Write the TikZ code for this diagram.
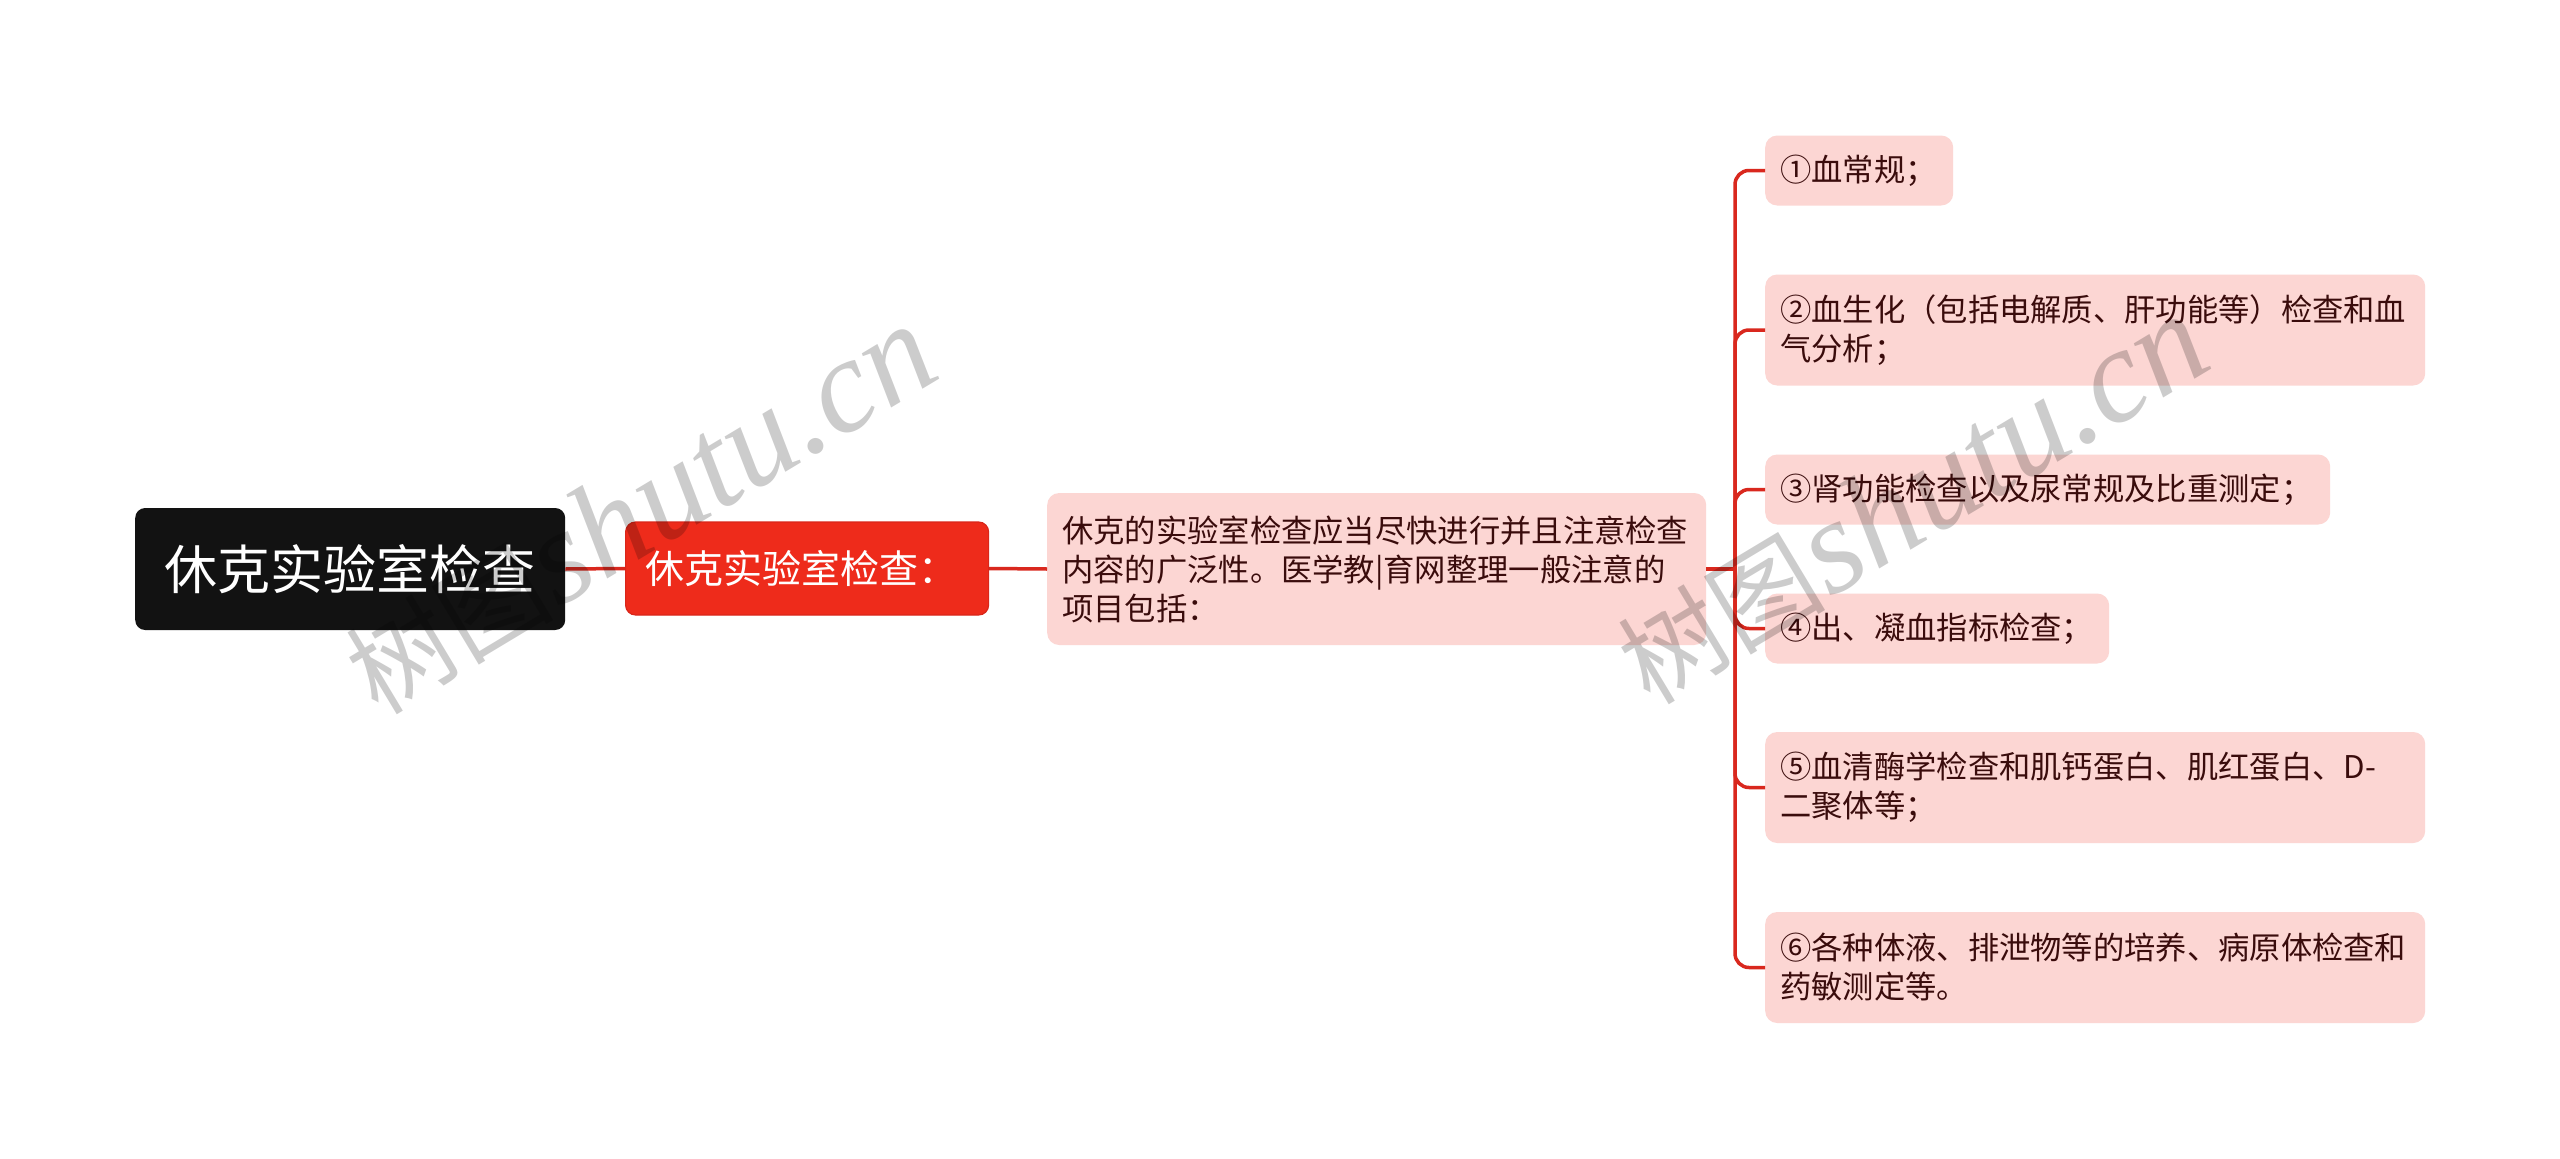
\documentclass[tikz,border=0pt]{standalone}
\usepackage{fontspec}
\setmainfont{Noto Sans CJK SC}
\newfontfamily\cjk{Noto Sans CJK SC}
\newfontfamily\wmserif{Liberation Serif}
\usetikzlibrary{calc}
\definecolor{rootbg}{HTML}{121212}
\definecolor{redbg}{HTML}{EE2B1B}
\definecolor{redbd}{HTML}{D9261A}
\definecolor{pinkbg}{HTML}{FCD6D3}
\definecolor{linec}{HTML}{D9281E}
\definecolor{txtc}{HTML}{3A0C0C}
\begin{document}
\begin{tikzpicture}[x=1pt,y=-1pt,
  rootbox/.style={fill=rootbg, rounded corners=10pt, text=white, anchor=west,
    minimum width=430pt, minimum height=122pt, inner sep=0pt,
    font=\cjk\fontsize{53}{60}\selectfont},
  redbox/.style={fill=redbg, draw=redbd, line width=1.2pt, rounded corners=10pt, text=white, anchor=west,
    text width=323pt, inner xsep=20pt, inner ysep=0pt, minimum height=93pt, align=left,
    font=\cjk\fontsize{39}{45}\selectfont},
  pinkbox/.style={fill=pinkbg, rounded corners=12pt, text=txtc, anchor=west,
    inner xsep=15pt, inner ysep=0pt, align=left,
    font=\cjk\fontsize{31.3}{39}\selectfont},
  conn/.style={draw=linec, line width=3.5pt},
  wmark/.style={rotate=31, text=black, text opacity=0.2, inner sep=0pt}
]
\useasboundingbox (0,0) rectangle (2560,1159);
\fill[white] (0,0) rectangle (2560,1159);

\node[rootbox] (root) at (135,569) {休克实验室检查};
\node[redbox] (sub) at (625,568.5) {休克实验室检查：};
\node[pinkbox, text width=629pt, minimum height=152pt] (desc) at (1047,569)
  {休克的实验室检查应当尽快进行并且注意检查\\内容的广泛性。医学教|育网整理一般注意的\\项目包括：};

\node[pinkbox, text width=158pt, minimum height=70pt] (c1) at (1765,170.5) {①血常规；};
\node[pinkbox, text width=630pt, minimum height=111pt] (c2) at (1765,330) {②血生化（包括电解质、肝功能等）检查和血\\气分析；};
\node[pinkbox, text width=535pt, minimum height=70pt] (c3) at (1765,489.5) {③肾功能检查以及尿常规及比重测定；};
\node[pinkbox, text width=314pt, minimum height=70pt] (c4) at (1765,628.5) {④出、凝血指标检查；};
\node[pinkbox, text width=630pt, minimum height=111pt] (c5) at (1765,787.5) {⑤血清酶学检查和肌钙蛋白、肌红蛋白、D-\\二聚体等；};
\node[pinkbox, text width=630pt, minimum height=111pt] (c6) at (1765,967.5) {⑥各种体液、排泄物等的培养、病原体检查和\\药敏测定等。};

\draw[conn] (root.east) -- (sub.west);
\draw[conn] (sub.east) -- (desc.west);
\coordinate (jn) at (1735,569);
\draw[conn] (desc.east) -- (jn);
\foreach \c in {c1,c2,c3,c4,c5,c6}
  \draw[conn, rounded corners=14pt] (jn) |- (\c.west);

\node[wmark] (wm1) at (640,510) {{\cjk\fontsize{104}{104}\selectfont 树图} {\wmserif\itshape\fontsize{134}{134}\selectfont shutu.cn}};
\node[wmark] (wm2) at (1912,500) {{\cjk\fontsize{104}{104}\selectfont 树图} {\wmserif\itshape\fontsize{134}{134}\selectfont shutu.cn}};
\end{tikzpicture}
\end{document}
